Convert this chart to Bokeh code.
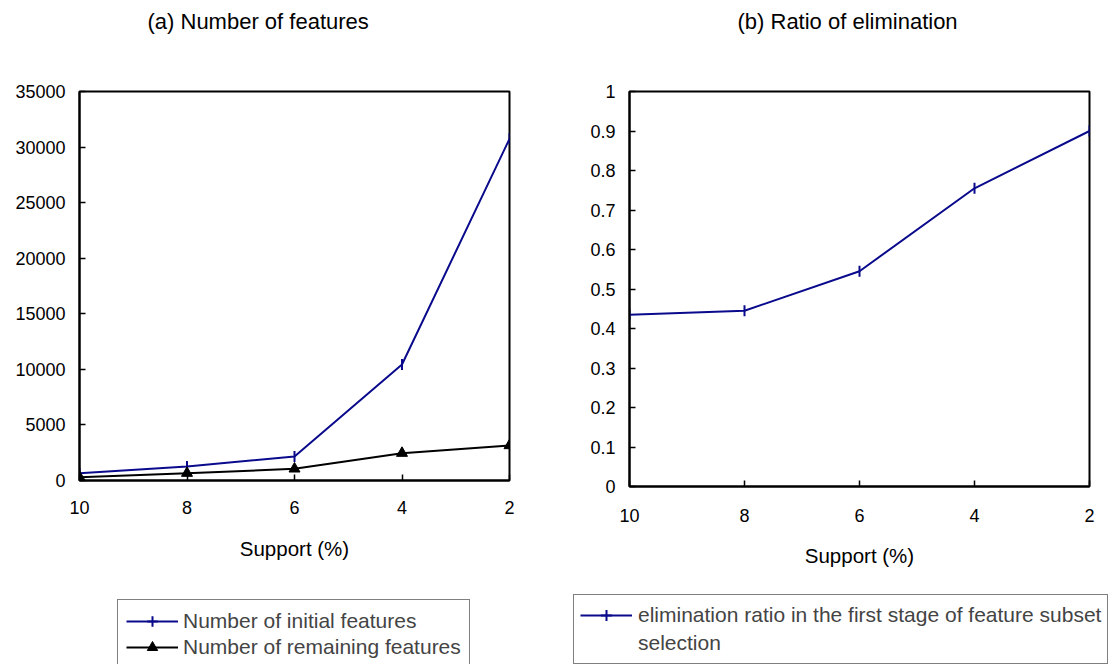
import numpy as np
from bokeh.plotting import figure
from bokeh.layouts import row, column
from bokeh.models import Range1d, FixedTicker, BasicTickFormatter, Legend, LegendItem, Title
from bokeh.embed import file_html
from bokeh.resources import INLINE

# Minimum support thresholds (%) on the x axis, from loose to strict
support = [10, 8, 6, 4, 2]

# (a) feature counts
initial_features = [660, 1260, 2160, 10440, 30740]
remaining_features = [300, 660, 1050, 2460, 3150]

# (b) elimination ratio of the first selection stage
elimination_ratio = [0.435, 0.445, 0.545, 0.755, 0.9]

count_ticks = [0, 5000, 10000, 15000, 20000, 25000, 30000, 35000]
ratio_ticks = [0, 0.1, 0.2, 0.3, 0.4, 0.5, 0.6, 0.7, 0.8, 0.9, 1]
ratio_tick_labels = {0: "0", 1: "1"}

titles = ["(a) Number of features", "(b) Ratio of elimination"]
x_label = "Support (%)"
legend_a = ["Number of initial features", "Number of remaining features"]
legend_b = ["elimination ratio in the first stage of feature subset", "selection"]

FONT = "Liberation Sans"
BLUE = "#0a0a8c"

INITIAL_STYLE = dict(line_color=BLUE, line_width=2)
DASH_STYLE = dict(marker="dash", angle=np.pi / 2, size=11, line_color=BLUE, line_width=2)
# legend keys are drawn unrotated, so the upright tick is shown as a cross over the line
DASH_KEY_STYLE = dict(marker="cross", size=11, line_color=BLUE, line_width=2)
REMAIN_STYLE = dict(line_color="black", line_width=2)
TRI_STYLE = dict(marker="triangle", size=11, fill_color="black", line_color="black")


def style(p, title, title_offset, tick_standoff_x, label_standoff_x):
    p.title.text = title
    p.title.align = "left"
    p.title.offset = title_offset
    p.title.vertical_align = "top"
    p.title.standoff = 16
    p.title.text_font = FONT
    p.title.text_font_size = "22px"
    p.title.text_font_style = "normal"
    p.title.text_color = "black"
    # empty band between the title and the plot frame
    p.add_layout(Title(text=" ", text_font_size="10px", standoff=35), "above")

    p.outline_line_color = "black"
    p.outline_line_width = 2
    p.outline_line_alpha = 1
    p.background_fill_color = "white"
    p.border_fill_color = "white"
    p.grid.visible = False

    for ax in (p.xaxis[0], p.yaxis[0]):
        ax.axis_line_color = "black"
        ax.axis_line_width = 2
        ax.major_tick_in = 6
        ax.major_tick_out = 0
        ax.major_tick_line_color = "black"
        ax.major_tick_line_width = 1.5
        ax.minor_tick_in = 0
        ax.minor_tick_out = 0
        ax.major_label_text_font = FONT
        ax.major_label_text_font_size = "18px"
        ax.major_label_text_color = "black"
        ax.axis_label_text_font = FONT
        ax.axis_label_text_font_size = "20.5px"
        ax.axis_label_text_font_style = "normal"
        ax.axis_label_text_color = "black"

    p.xaxis.ticker = FixedTicker(ticks=support)
    p.xaxis.axis_label = x_label
    p.xaxis.major_label_standoff = tick_standoff_x
    p.xaxis.axis_label_standoff = label_standoff_x
    p.yaxis.major_label_standoff = 14


def legend_panel():
    # the series are re-plotted here outside the visible range, only to feed the legend keys
    q = figure(width=554, height=94, output_backend="svg", toolbar_location=None,
               x_range=Range1d(0, 1), y_range=Range1d(0, 1),
               x_axis_type=None, y_axis_type=None,
               min_border_left=0, min_border_right=0,
               min_border_top=0, min_border_bottom=0)
    q.outline_line_color = None
    q.grid.visible = False
    q.background_fill_color = "white"
    q.border_fill_color = "white"
    return q


def make_legend(items, location, label_height, padding, label_standoff):
    return Legend(items=items, location=location, margin=0, padding=padding, spacing=0,
                  label_height=label_height, glyph_height=label_height,
                  glyph_width=52, label_standoff=label_standoff,
                  label_text_font=FONT, label_text_font_size="21px",
                  border_line_color="black", border_line_width=1.5,
                  background_fill_color="white", background_fill_alpha=1)


# ---------------- (a) Number of features ----------------
pa = figure(width=554, height=570, output_backend="svg", toolbar_location=None,
            x_range=Range1d(10, 2), y_range=Range1d(0, 35000),
            min_border_left=79, min_border_right=45,
            min_border_top=0, min_border_bottom=90)
style(pa, titles[0], 68, 20, 20)
pa.yaxis.ticker = FixedTicker(ticks=count_ticks)
pa.yaxis.formatter = BasicTickFormatter(use_scientific=False)

pa.line(support, initial_features, **INITIAL_STYLE)
pa.scatter(support, initial_features, **DASH_STYLE)
pa.line(support, remaining_features, **REMAIN_STYLE)
pa.scatter(support, remaining_features, **TRI_STYLE)

qa = legend_panel()
ka1 = qa.line(support, initial_features, **INITIAL_STYLE)
ka2 = qa.scatter(support, initial_features, **DASH_KEY_STYLE)
ka3 = qa.line(support, remaining_features, **REMAIN_STYLE)
ka4 = qa.scatter(support, remaining_features, **TRI_STYLE)
qa.add_layout(make_legend([LegendItem(label=legend_a[0], renderers=[ka1, ka2]),
                           LegendItem(label=legend_a[1], renderers=[ka3, ka4])],
                          (117, -5), 26, 8, 5), "center")

# ---------------- (b) Ratio of elimination ----------------
pb = figure(width=554, height=570, output_backend="svg", toolbar_location=None,
            x_range=Range1d(10, 2), y_range=Range1d(0, 1),
            min_border_left=75, min_border_right=19,
            min_border_top=0, min_border_bottom=84)
style(pb, titles[1], 108, 22, 19)
pb.yaxis.ticker = FixedTicker(ticks=ratio_ticks)
pb.yaxis.major_label_overrides = ratio_tick_labels

pb.line(support, elimination_ratio, **INITIAL_STYLE)
pb.scatter(support, elimination_ratio, **DASH_STYLE)

qb = legend_panel()
kb1 = qb.line(support, elimination_ratio, **INITIAL_STYLE)
kb2 = qb.scatter(support, elimination_ratio, **DASH_KEY_STYLE)
# second legend row carries the wrapped part of the label, with no visible key
kb3 = qb.line(support, elimination_ratio, line_alpha=0)
qb.add_layout(make_legend([LegendItem(label=legend_b[0], renderers=[kb1, kb2]),
                           LegendItem(label=legend_b[1], renderers=[kb3])],
                          (19, 0), 28, 6, 6), "center")

# each plot sits in its own column so their frames keep separate heights
layout = column(row(column(pa), column(pb)), row(qa, qb))
open("out.html", "w").write(file_html(layout, INLINE))
